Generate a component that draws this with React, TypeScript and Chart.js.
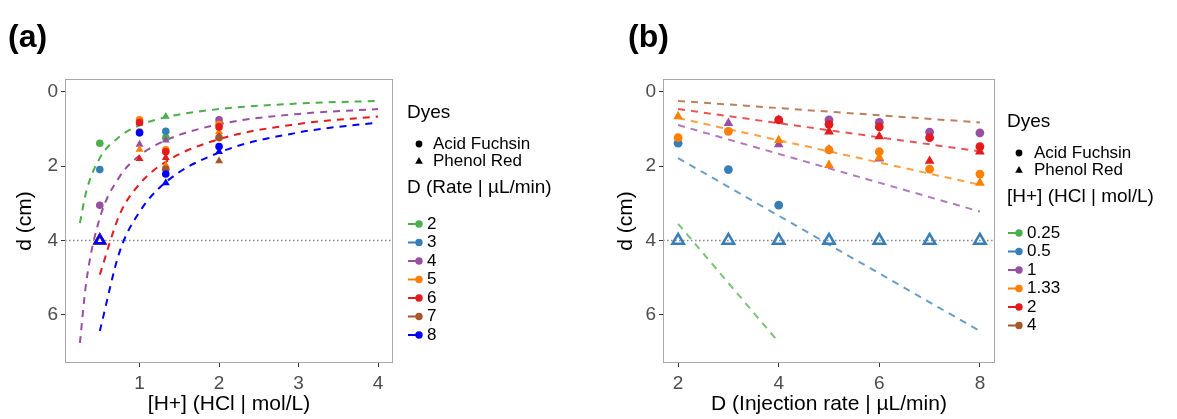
import { useEffect, useRef } from "react";
import { Chart, registerables } from "chart.js";

Chart.register(...registerables);

// ---------------- data ----------------
const H_LEVELS = [0.25, 0.5, 1, 1.33, 2, 4];
const D_LEVELS = [2, 3, 4, 5, 6, 7, 8];
const H_LABELS = ["0.25", "0.5", "1", "1.33", "2", "4"];
const D_LABELS = ["2", "3", "4", "5", "6", "7", "8"];
const H_COLORS = ["#4DAF4A", "#377EB8", "#984EA3", "#FF7F00", "#E41A1C", "#A65628"];
const D_COLORS = ["#4DAF4A", "#377EB8", "#984EA3", "#FF7F00", "#E41A1C", "#A65628", "#0000FF"];
const LIMIT_CM = 4;

// rows = [H+] level, columns = D (injection rate)
const ACID_FUCHSIN: (number | null)[][] = [
  [null, null, null, null, null, null, null],
  [1.38, 2.09, 3.05, null, null, null, null],
  [null, null, null, 0.75, 0.82, 1.08, 1.1],
  [1.23, 1.06, null, 1.56, 1.61, 2.08, 2.21],
  [null, null, 0.75, 0.87, 0.94, 1.23, 1.47],
  [null, null, null, null, null, null, null],
];
const PHENOL_RED: (number | null)[][] = [
  [null, null, null, null, null, null, null],
  [4, 4, 4, 4, 4, 4, 4],
  [null, 0.84, 1.41, 1.55, 1.8, null, null],
  [0.66, null, 1.3, 1.97, 1.77, null, 2.45],
  [null, null, 0.76, 1.07, 1.2, 1.86, 1.61],
  [null, null, null, null, null, null, null],
];

// fitted curves, panel (a): one per D
const FIT_A_D = [2, 4, 6, 8];
const FIT_A_X = [
  [0.25, 0.33, 0.5, 0.75, 1, 1.33, 2, 3, 4],
  [0.25, 0.33, 0.5, 0.75, 1, 1.33, 2, 3, 4],
  [0.5, 0.75, 1, 1.33, 2, 3, 4],
  [0.5, 0.75, 1, 1.33, 2, 3, 4],
];
const FIT_A_Y = [
  [3.53, 2.68, 1.78, 1.2, 0.9, 0.68, 0.46, 0.31, 0.24],
  [6.76, 5.12, 3.4, 2.28, 1.71, 1.3, 0.87, 0.59, 0.46],
  [4.92, 3.3, 2.48, 1.88, 1.27, 0.86, 0.66],
  [6.44, 4.3, 3.23, 2.43, 1.63, 1.09, 0.82],
];

// fitted lines, panel (b): one per [H+]
const FIT_B_H = [0.25, 0.5, 1, 1.33, 2, 4];
const FIT_B_X = [[2, 4], [2, 8], [2, 8], [2, 8], [2, 8], [2, 8]];
const FIT_B_Y = [[3.55, 6.74], [1.78, 6.44], [0.89, 3.22], [0.7, 2.5], [0.46, 1.6], [0.24, 0.82]];

const A_X_TICKS = [1, 2, 3, 4];
const B_X_TICKS = [2, 4, 6, 8];
const Y_TICKS = [0, 2, 4, 6];
const A_X_RANGE = [0.0625, 4.1875];
const B_X_RANGE = [1.7, 8.3];
const Y_RANGE = [-0.35, 7.3];

const DYE_NAMES = ["Acid Fuchsin", "Phenol Red"];
const TEXT = {
  a: { label: "(a)", xTitle: "[H+] (HCl | mol/L)", legendTitle: "D (Rate | µL/min)" },
  b: { label: "(b)", xTitle: "D (Injection rate | µL/min)", legendTitle: "[H+] (HCl | mol/L)" },
  yTitle: "d (cm)",
  dyes: "Dyes",
};

// ---------------- styling ----------------
const FONT = '"Liberation Sans", Arial, sans-serif';

function hexA(hex: string, a: number) {
  const n = parseInt(hex.slice(1), 16);
  return `rgba(${(n >> 16) & 255},${(n >> 8) & 255},${n & 255},${a})`;
}

type PanelCfg = {
  kind: "a" | "b";
  yWidth: number;
  padRight: number;
  yTitlePad: number;
  labelX: number;
  legend: { x: number; keyX: number; dyeLabelX: number; itemLabelX: number; yDyes: number; yAF: number; yPR: number; yTitle: number; yItem0: number; step: number };
};

function buildDatasets(kind: "a" | "b") {
  const ds: any[] = [];
  const xr = kind === "a" ? A_X_RANGE : B_X_RANGE;
  ds.push({
    type: "line",
    data: [{ x: xr[0], y: LIMIT_CM }, { x: xr[1], y: LIMIT_CM }],
    borderColor: "#8C8C8C",
    borderWidth: 1.6,
    borderDash: [1.6, 2.4],
    pointRadius: 0,
    fill: false,
  });
  if (kind === "a") {
    FIT_A_D.forEach((d, k) => {
      const col = D_COLORS[D_LEVELS.indexOf(d)];
      ds.push({
        type: "line",
        data: FIT_A_X[k].map((x, i) => ({ x, y: FIT_A_Y[k][i] })),
        borderColor: col,
        borderWidth: 2,
        borderDash: [7, 6],
        pointRadius: 0,
        cubicInterpolationMode: "monotone",
        fill: false,
      });
    });
  } else {
    FIT_B_H.forEach((h, k) => {
      const col = H_COLORS[H_LEVELS.indexOf(h)];
      ds.push({
        type: "line",
        data: FIT_B_X[k].map((x, i) => ({ x, y: FIT_B_Y[k][i] })),
        borderColor: hexA(col, 0.75),
        borderWidth: 2,
        borderDash: [7, 6],
        pointRadius: 0,
        fill: false,
      });
    });
  }
  const groups = kind === "a" ? D_LEVELS : H_LEVELS;
  const colors = kind === "a" ? D_COLORS : H_COLORS;
  const rc = kind === "a" ? 3.8 : 4.4;
  const rt = kind === "a" ? 4.6 : 5.6;
  const ro = kind === "a" ? 5.6 : 6.6;
  groups.forEach((_, g) => {
    const col = colors[g];
    [ACID_FUCHSIN, PHENOL_RED].forEach((table, t) => {
      const pts =
        kind === "a"
          ? H_LEVELS.map((h, i) => ({ x: h, y: table[i][g] }))
          : D_LEVELS.map((d, j) => ({ x: d, y: table[g][j] }));
      const data = pts.filter((p) => p.y !== null);
      if (!data.length) return;
      const isTri = t === 1;
      ds.push({
        type: "scatter",
        data,
        showLine: false,
        pointStyle: isTri ? "triangle" : "circle",
        pointRadius: (c: any) => (isTri ? (c.raw && c.raw.y >= LIMIT_CM ? ro : rt) : rc),
        pointBackgroundColor: (c: any) => (isTri && c.raw && c.raw.y >= LIMIT_CM ? "rgba(255,255,255,0)" : col),
        pointBorderColor: col,
        pointBorderWidth: (c: any) => (isTri && c.raw && c.raw.y >= LIMIT_CM ? 2.5 : 0),
      });
    });
  });
  const n = ds.length;
  ds.forEach((d, i) => (d.order = n - i));
  return ds;
}

function decorPlugin(cfg: PanelCfg) {
  return {
    id: "decor" + cfg.kind,
    afterDatasetsDraw(chart: any) {
      const { ctx, chartArea: a } = chart;
      ctx.save();
      ctx.strokeStyle = "#A8A8A8";
      ctx.lineWidth = 1;
      ctx.strokeRect(a.left + 0.5, a.top + 0.5, a.right - a.left - 1, a.bottom - a.top - 1);
      ctx.restore();
    },
    afterDraw(chart: any) {
      const ctx = chart.ctx;
      const L = cfg.legend;
      ctx.save();
      ctx.fillStyle = "#000";
      ctx.textBaseline = "alphabetic";
      ctx.textAlign = "left";
      ctx.font = `bold 32px ${FONT}`;
      ctx.fillText(TEXT[cfg.kind].label, cfg.labelX, 47);

      ctx.textBaseline = "middle";
      ctx.font = `19px ${FONT}`;
      ctx.fillText(TEXT.dyes, L.x, L.yDyes);
      ctx.font = `17px ${FONT}`;
      // dye keys
      ctx.beginPath();
      ctx.arc(L.keyX, L.yAF, 3.4, 0, Math.PI * 2);
      ctx.fill();
      ctx.beginPath();
      const r = 4.4;
      for (let k = 0; k < 3; k++) {
        const ang = (k * 2 * Math.PI) / 3;
        const px = L.keyX + Math.sin(ang) * r;
        const py = L.yPR + 0.5 - Math.cos(ang) * r;
        if (k === 0) ctx.moveTo(px, py);
        else ctx.lineTo(px, py);
      }
      ctx.closePath();
      ctx.fill();
      ctx.fillText(DYE_NAMES[0], L.dyeLabelX, L.yAF);
      ctx.fillText(DYE_NAMES[1], L.dyeLabelX, L.yPR);

      ctx.font = `19px ${FONT}`;
      ctx.fillText(TEXT[cfg.kind].legendTitle, L.x, L.yTitle);
      ctx.font = `17px ${FONT}`;
      const labels = cfg.kind === "a" ? D_LABELS : H_LABELS;
      const colors = cfg.kind === "a" ? D_COLORS : H_COLORS;
      labels.forEach((lab, i) => {
        const y = L.yItem0 + i * L.step;
        ctx.strokeStyle = colors[i];
        ctx.lineWidth = 2;
        ctx.beginPath();
        ctx.moveTo(L.x + 1, y);
        ctx.lineTo(L.keyX, y);
        ctx.stroke();
        ctx.fillStyle = colors[i];
        ctx.beginPath();
        ctx.arc(L.keyX, y, 3.7, 0, Math.PI * 2);
        ctx.fill();
        ctx.fillStyle = "#000";
        ctx.fillText(lab, L.itemLabelX, y);
      });
      ctx.restore();
    },
  };
}

function makeChart(canvas: HTMLCanvasElement, cfg: PanelCfg) {
  const xr = cfg.kind === "a" ? A_X_RANGE : B_X_RANGE;
  const xt = cfg.kind === "a" ? A_X_TICKS : B_X_TICKS;
  return new Chart(canvas, {
    type: "scatter",
    data: { datasets: buildDatasets(cfg.kind) },
    plugins: [decorPlugin(cfg)],
    options: {
      animation: false,
      responsive: false,
      devicePixelRatio: 1,
      events: [],
      layout: { padding: { left: 0, top: 79, right: cfg.padRight, bottom: 0 } },
      plugins: { legend: { display: false }, tooltip: { enabled: false } },
      scales: {
        x: {
          type: "linear",
          min: xr[0],
          max: xr[1],
          afterBuildTicks: (s: any) => {
            s.ticks = xt.map((v) => ({ value: v }));
          },
          afterFit: (s: any) => {
            s.height = 56;
          },
          grid: { drawOnChartArea: false, drawTicks: true, tickLength: 4, tickColor: "#333333", color: "#333333" },
          border: { display: false },
          ticks: { font: { family: FONT, size: 19 }, color: "#4D4D4D", padding: 5, maxRotation: 0, autoSkip: false },
          title: {
            display: true,
            text: TEXT[cfg.kind].xTitle,
            font: { family: FONT, size: 21 },
            color: "#000",
            padding: { top: 0, bottom: 2.4 },
          },
        },
        y: {
          type: "linear",
          reverse: true,
          min: Y_RANGE[0],
          max: Y_RANGE[1],
          afterBuildTicks: (s: any) => {
            s.ticks = Y_TICKS.map((v) => ({ value: v }));
          },
          afterFit: (s: any) => {
            s.width = cfg.yWidth;
          },
          grid: { drawOnChartArea: false, drawTicks: true, tickLength: 4, tickColor: "#333333", color: "#333333" },
          border: { display: false },
          ticks: { font: { family: FONT, size: 19 }, color: "#4D4D4D", padding: 3, autoSkip: false },
          title: {
            display: true,
            text: TEXT.yTitle,
            font: { family: FONT, size: 21 },
            color: "#000",
            padding: { top: cfg.yTitlePad, bottom: 0 },
          },
        },
      },
    } as any,
  });
}

const PANEL_A: PanelCfg = {
  kind: "a",
  yWidth: 65,
  padRight: 207,
  yTitlePad: 12.4,
  labelX: 8,
  legend: { x: 407, keyX: 419, dyeLabelX: 433, itemLabelX: 427, yDyes: 113, yAF: 144, yPR: 161, yTitle: 188, yItem0: 224, step: 18.5 },
};
const PANEL_B: PanelCfg = {
  kind: "b",
  yWidth: 63,
  padRight: 182,
  yTitlePad: 13.4,
  labelX: 28,
  legend: { x: 407, keyX: 419, dyeLabelX: 434, itemLabelX: 427, yDyes: 122, yAF: 153, yPR: 170, yTitle: 197, yItem0: 233, step: 18.5 },
};

export default function App() {
  const refA = useRef<HTMLCanvasElement | null>(null);
  const refB = useRef<HTMLCanvasElement | null>(null);
  useEffect(() => {
    const ca = makeChart(refA.current as HTMLCanvasElement, PANEL_A);
    const cb = makeChart(refB.current as HTMLCanvasElement, PANEL_B);
    return () => {
      ca.destroy();
      cb.destroy();
    };
  }, []);
  return (
    <div style={{ position: "absolute", left: 0, top: 0, width: 1177, height: 419, background: "#fff" }}>
      <canvas ref={refA} width={600} height={419} style={{ position: "absolute", left: 0, top: 0, width: 600, height: 419 }} />
      <canvas ref={refB} width={577} height={419} style={{ position: "absolute", left: 600, top: 0, width: 577, height: 419 }} />
    </div>
  );
}
